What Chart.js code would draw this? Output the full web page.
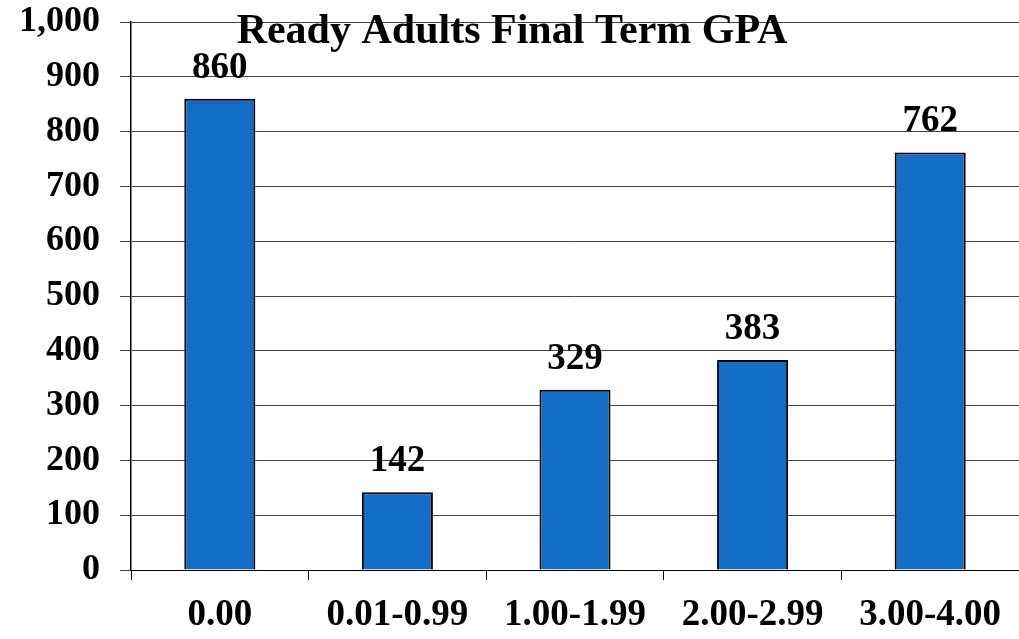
<!DOCTYPE html>
<html>
<head>
<meta charset="utf-8">
<script src="https://cdn.jsdelivr.net/npm/chart.js@4"></script>
<style>
    html, body { margin: 0; padding: 0; background: #fff; }
    #wrap { width: 1019px; height: 639px; }
</style>
</head>
<body>
<div id="wrap"><canvas id="gpaChart" width="1019" height="639"></canvas></div>
<script>
const categories = ['0.00', '0.01-0.99', '1.00-1.99', '2.00-2.99', '3.00-4.00'];
const students = [860, 142, 329, 383, 762];
const yTicks = [0, 100, 200, 300, 400, 500, 600, 700, 800, 900, 1000];
const chartTitle = 'Ready Adults Final Term GPA';

const serif = '"Liberation Serif", "Times New Roman", serif';

// title sits inside the plot area, and the values over the bars
const overlayText = {
    id: 'overlayText',
    afterDatasetsDraw(chart) {
        const ctx = chart.ctx;
        ctx.save();
        ctx.fillStyle = '#000';
        ctx.textAlign = 'center';
        ctx.textBaseline = 'alphabetic';
        ctx.font = 'bold 37px ' + serif;
        chart.getDatasetMeta(0).data.forEach((bar, i) => {
            ctx.fillText(students[i], bar.x, bar.y - 21);
        });
        ctx.font = 'bold 42px ' + serif;
        ctx.fillText(chartTitle, 512, 43);
        ctx.restore();
    }
};

new Chart(document.getElementById('gpaChart'), {
    type: 'bar',
    data: {
        labels: categories,
        datasets: [{
            data: students,
            backgroundColor: '#116DC5',
            borderColor: '#000',
            borderWidth: 2,
            categoryPercentage: 1,
            barPercentage: 0.4
        }]
    },
    options: {
        responsive: false,
        animation: false,
        layout: { padding: { top: 22, right: 0, left: 0, bottom: 0 } },
        plugins: {
            legend: { display: false },
            tooltip: { enabled: false }
        },
        scales: {
            x: {
                grid: {
                    offset: true,
                    drawOnChartArea: false,
                    drawTicks: true,
                    tickLength: 10,
                    color: '#000'
                },
                border: { display: true, color: '#000', width: 1 },
                ticks: {
                    color: '#000',
                    font: { family: serif, size: 37, weight: 'bold' },
                    padding: 13,
                    maxRotation: 0,
                    autoSkip: false
                },
                afterFit: scale => {
                    scale.height = 69;
                    scale.paddingLeft = 0;
                    scale.paddingRight = 0;
                }
            },
            y: {
                min: 0,
                max: 1000,
                afterBuildTicks: scale => {
                    scale.ticks = yTicks.map(v => ({ value: v }));
                },
                grid: {
                    color: '#444',
                    lineWidth: 1,
                    tickLength: 11
                },
                border: { display: true, color: '#000', width: 1.5 },
                ticks: {
                    color: '#000',
                    font: { family: serif, size: 36, weight: 'bold' },
                    padding: 20,
                    callback: v => v.toLocaleString('en-US')
                },
                afterFit: scale => {
                    scale.width = 131;
                    scale.paddingTop = 0;
                    scale.paddingBottom = 0;
                }
            }
        }
    },
    plugins: [overlayText]
});
</script>
</body>
</html>
